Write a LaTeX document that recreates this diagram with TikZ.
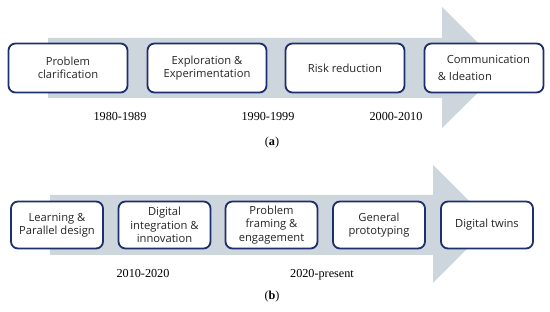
\documentclass[tikz,border=0pt]{standalone}
\usepackage{fontspec}
\setmainfont{Liberation Serif}
\newfontfamily\boxfont{Open Sans}
\definecolor{shaft}{HTML}{CDD5DD}
\definecolor{navy}{HTML}{1C2F6E}
\tikzset{
  stage/.style={draw=navy, line width=1.8pt, rounded corners=7pt, fill=white,
    text=black!85, font=\boxfont\fontsize{11.2}{13.2}\selectfont, align=center, inner sep=0pt},
  widestage/.style={stage, minimum width=119pt, minimum height=49pt},
  narrowstage/.style={stage, minimum width=92pt, minimum height=47pt},
  period/.style={font=\fontsize{12.2}{14}\selectfont},
  caption/.style={font=\fontsize{12.2}{14}\selectfont},
}
\begin{document}
\begin{tikzpicture}[x=1pt,y=-1pt]
\useasboundingbox (0,0) rectangle (550,312);

% Timeline (a)
\fill[shaft] (48,38) -- (442,38) -- (442,7) -- (503,68) -- (442,128) -- (442,98) -- (48,98) -- cycle;
\node[widestage] (clar) at (68,68) {Problem\\clarification};
\node[widestage] (explo) at (207,68) {Exploration \&\\Experimentation};
\node[widestage] (risk) at (345,68) {Risk reduction};
\node[widestage, align=left] (comm) at (484,68) {\hspace*{9pt}Communication\\[3pt]\& Ideation};

\node[period] (p80) at (120,117) {1980-1989};
\node[period] (p90) at (268,117) {1990-1999};
\node[period] (p00) at (396,117) {2000-2010};
\node[caption] (capa) at (272,143) {(\textbf{a})};

% Timeline (b)
\fill[shaft] (50,195) -- (433,195) -- (433,165) -- (492,224) -- (433,283) -- (433,255) -- (50,255) -- cycle;
\node[narrowstage] (learn) at (57,225) {Learning \&\\Parallel design};
\node[narrowstage] (digi) at (164.5,225) {Digital\\integration \&\\innovation};
\node[narrowstage] (frame) at (271.5,225) {Problem\\framing \&\\engagement};
\node[narrowstage] (proto) at (379,225) {General\\prototyping};
\node[narrowstage] (twin) at (487,225) {Digital twins};

\node[period] (p10) at (143,274) {2010-2020};
\node[period] (p20) at (322,275) {2020-present};
\node[caption] (capb) at (272,297) {(\textbf{b})};
\end{tikzpicture}
\end{document}
